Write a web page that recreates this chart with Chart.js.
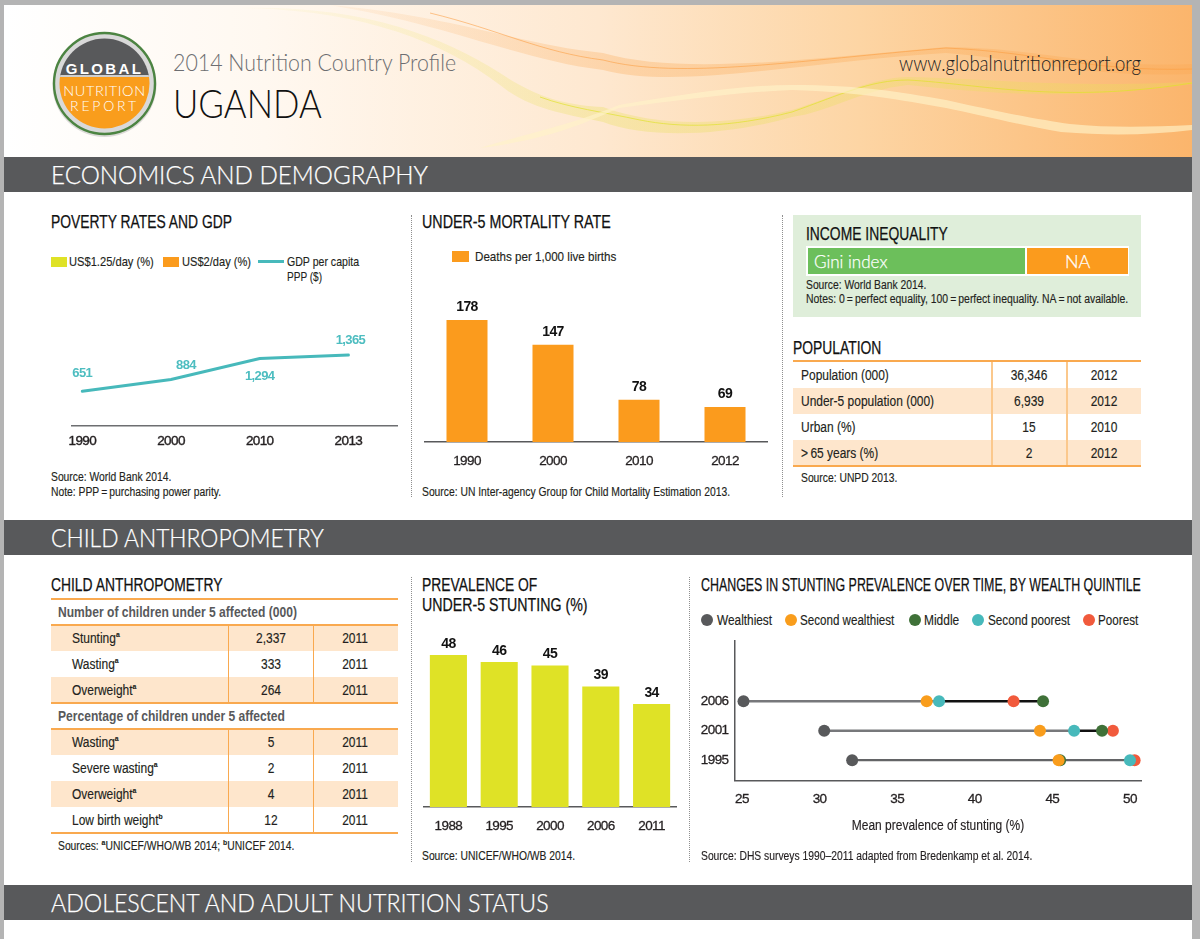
<!DOCTYPE html>
<html>
<head>
<meta charset="utf-8">
<title>Uganda nutrition profile</title>
<script src="https://cdn.jsdelivr.net/npm/chart.js@4/dist/chart.umd.min.js"></script>
<style>
  html, body { margin: 0; padding: 0; }
  body { width: 1200px; height: 939px; overflow: hidden; position: relative; background: #b4b4b4; }
  #page { position: absolute; left: 4px; top: 5px; width: 1188px; height: 934px; background: #fff; }
  #header { position: absolute; left: 4px; top: 5px; width: 1188px; height: 152px;
    background: linear-gradient(90deg, #fff 0%, #fff8f0 22%, #fee8d0 50%, #fdd5a4 72%, #fbb56c 100%); }
  #swoosh { position: absolute; left: 0; top: 0; }
  canvas { position: absolute; }
  .t { position: absolute; white-space: nowrap; font-family: "Liberation Sans", sans-serif;
    font-size: 12px; line-height: 16px; color: #231f20; transform-origin: 0 50%;
    -webkit-text-stroke: .15px #231f20; }
  .src { transform: scaleX(.86); }
  .h { font-size: 18px; line-height: 20px; color: #111; transform: scaleX(.77); -webkit-text-stroke: .25px #111; }
  .lg { font-size: 13.5px; transform: scaleX(.86); }
  .td { font-size: 14px; transform: scaleX(.855); }
  .th { font-size: 14px; font-weight: bold; color: #58595b; transform: scaleX(.863); -webkit-text-stroke: 0; }
  .c { transform-origin: 50% 50%; transform: translateX(-50%) scaleX(.855); }
  .sec { font-family: Lato, sans-serif; font-weight: 300; font-size: 25px; line-height: 30px; color: #fff; -webkit-text-stroke: .25px #fff; }
  .lt { font-family: Lato, sans-serif; font-weight: 300; -webkit-text-stroke: 0; }
  sup { font-size: 8px; line-height: 0; font-weight: bold; }
  .box { position: absolute; }
  .dots { position: absolute; width: 0; border-left: 1px dotted #8f8f8f; }
</style>
</head>
<body>
<div id="page"></div>
<div id="header"></div>
<svg id="swoosh" width="1200" height="160">
  <defs>
    <linearGradient id="fadeYellow" gradientUnits="userSpaceOnUse" x1="240" y1="0" x2="600" y2="0">
      <stop offset="0" stop-color="#f3e87a" stop-opacity=".06"/>
      <stop offset="1" stop-color="#e9e05a" stop-opacity=".32"/>
    </linearGradient>
    <linearGradient id="fadeOrange" gradientUnits="userSpaceOnUse" x1="330" y1="0" x2="620" y2="0">
      <stop offset="0" stop-color="#fba64f" stop-opacity=".08"/>
      <stop offset="1" stop-color="#fba64f" stop-opacity=".3"/>
    </linearGradient>
  </defs>
  <path d="M330 5 C450 15 520 45 603 53 C680 75 800 60 946 47 C1040 48 1090 68 1192 64 L1192 74 C1090 78 1030 60 946 53 C800 62 680 90 603 70 C520 60 450 25 330 5Z" fill="url(#fadeOrange)"/>
  <path d="M430 13 C500 30 540 52 603 60 C680 80 800 60 946 48 C1040 52 1090 72 1192 69" fill="none" stroke="#fb9b3c" stroke-opacity=".55"/>
  <path d="M240 8 C360 5 440 35 500 73 C540 100 570 105 603 107 C660 128 730 125 792 110 C840 95 870 78 908 77 C980 78 1060 88 1192 82 L1192 84 C1060 102 980 92 908 85 C860 90 830 112 792 117 C730 135 650 140 603 122 C570 115 530 110 500 85 C440 40 360 10 240 8Z" fill="url(#fadeYellow)"/>
  <path d="M540 97 C570 108 603 112 640 120 C680 128 730 128 792 112 C840 95 870 80 908 80 C980 84 1060 104 1192 83" fill="none" stroke="#dfe226" stroke-opacity=".65"/>
  <path d="M480 148 C540 130 570 125 619 105 C680 95 740 85 792 85 C860 85 900 92 946 100 C1000 112 1040 120 1070 124 C1110 128 1150 127 1192 125 L1192 130 C1150 135 1110 136 1061 132 C1020 125 980 115 946 108 C900 100 860 92 792 90 C740 92 680 100 619 108 C570 130 540 140 480 148Z" fill="#fff3c8" fill-opacity=".65"/>
</svg>
<svg id="logo" width="112" height="112" style="position:absolute;left:49px;top:28px">
  <circle cx="55.5" cy="57" r="52" fill="#9a9a9a" fill-opacity=".35"/>
  <circle cx="55.5" cy="55.5" r="50.5" fill="#d9d9d9" stroke="#4c8442" stroke-width="2.4"/>
  <clipPath id="inner"><circle cx="55.5" cy="55.5" r="45"/></clipPath>
  <g clip-path="url(#inner)">
    <rect x="0" y="0" width="112" height="49" fill="#58595b"/>
    <rect x="0" y="49" width="112" height="63" fill="#f99d1c"/>
    <rect x="0" y="47" width="112" height="2" fill="#cfcfcf"/>
  </g>
  <text x="55.5" y="46" text-anchor="middle" font-family="Liberation Sans" font-weight="bold" font-size="15" letter-spacing="2.4" fill="#fff">GLOBAL</text>
  <text x="55.5" y="68" text-anchor="middle" font-family="Lato" font-weight="300" font-size="14.5" letter-spacing=".6" fill="#fff">NUTRITION</text>
  <text x="55.5" y="83" text-anchor="middle" font-family="Lato" font-weight="300" font-size="14" letter-spacing="2.8" fill="#fff">REPORT</text>
</svg>
<canvas id="gdpChart" width="338" height="125" style="left:60px;top:330px"></canvas>
<canvas id="mortalityChart" width="344" height="190" style="left:424px;top:290px"></canvas>
<canvas id="stuntingChart" width="254" height="210" style="left:423px;top:630px"></canvas>
<canvas id="quintileChart" width="460" height="205" style="left:690px;top:635px"></canvas>
<script>
// chart values
const gdpYears = ["1990", "2000", "2010", "2013"];
const gdpValues = [651, 884, 1294, 1365];
const gdpLabelShift = [[0, -18], [15, -14], [0, 18], [2, -15]];

const mortalityYears = ["1990", "2000", "2010", "2012"];
const mortalityValues = [178, 147, 78, 69];

const stuntingYears = ["1988", "1995", "2000", "2006", "2011"];
const stuntingValues = [48, 46, 45, 39, 34];

const quintileYears = ["1995", "2001", "2006"];
const wealthiest = [32.1, 30.3, 25.1];
const secondWealthiest = [45.4, 44.2, 36.9];
const middle = [45.5, 48.2, 44.4];
const secondPoorest = [50.0, 46.4, 37.7];
const poorest = [50.3, 48.9, 42.5];

const populationRows = [
  ["Population (000)", "36,346", "2012"],
  ["Under-5 population (000)", "6,939", "2012"],
  ["Urban (%)", "15", "2010"],
  [">\u200965 years (%)", "2", "2012"],
];
const affectedRows = [
  ["Stunting<sup>a</sup>", "2,337", "2011"],
  ["Wasting<sup>a</sup>", "333", "2011"],
  ["Overweight<sup>a</sup>", "264", "2011"],
];
const percentageRows = [
  ["Wasting<sup>a</sup>", "5", "2011"],
  ["Severe wasting<sup>a</sup>", "2", "2011"],
  ["Overweight<sup>a</sup>", "4", "2011"],
  ["Low birth weight<sup>b</sup>", "12", "2011"],
];

const ink = "#231f20";
const axisGrey = "#58595b";
const orange = "#fb9b1d";
const yellow = "#dfe226";
const teal = "#47b9bb";
const sans = "'Liberation Sans', sans-serif";

function put(html, x, y, cls, style) {
  const el = document.createElement("div");
  el.className = "t " + (cls || "src");
  el.innerHTML = html;
  el.style.left = x + "px";
  el.style.top = y + "px";
  if (style) el.style.cssText += style;
  document.body.appendChild(el);
  // y is the middle of the line
  el.style.marginTop = -el.offsetHeight / 2 + "px";
  return el;
}

// squeeze a line to the width it has in the reference
function fit(el, width) {
  el.style.transform = "scaleX(" + width / el.offsetWidth + ")";
}

function rect(x, y, w, h, color) {
  const el = document.createElement("div");
  el.className = "box";
  el.style.cssText += "left:" + x + "px;top:" + y + "px;width:" + w + "px;height:" + h + "px;background:" + color;
  document.body.appendChild(el);
}

function dotted(x, y, h) {
  const el = document.createElement("div");
  el.className = "dots";
  el.style.cssText += "left:" + x + "px;top:" + y + "px;height:" + h + "px";
  document.body.appendChild(el);
}

// header and section bars
fit(put("2014 Nutrition Country Profile", 173, 62, "lt", "font-size:24px;line-height:30px;color:#6d6e71"), 283);
fit(put("UGANDA", 173, 103, "lt", "font-size:40px;line-height:44px;color:#111"), 149);
fit(put("www.globalnutritionreport.org", 899, 63, "lt", "font-size:21px;line-height:26px;color:#222"), 242);

[[157, "ECONOMICS AND DEMOGRAPHY", 377], [520, "CHILD ANTHROPOMETRY", 273], [885, "ADOLESCENT AND ADULT NUTRITION STATUS", 498]].forEach(function (s) {
  rect(4, s[0], 1188, 35, axisGrey);
  fit(put(s[1], 51, s[0] + 17, "sec"), s[2]);
});

dotted(411, 215, 282);
dotted(782, 215, 282);
dotted(411, 577, 285);
dotted(689, 577, 285);

// poverty panel
put("POVERTY RATES AND GDP", 51, 222, "h");
rect(51, 257, 16, 9.5, yellow);
fit(put("US$1.25/day (%)", 69, 262, "lg"), 85);
rect(163, 257, 16, 9.5, orange);
fit(put("US$2/day (%)", 182, 262, "lg"), 69);
rect(258, 260, 26, 3, teal);
fit(put("GDP per capita", 287, 262, "lg"), 72);
fit(put("PPP ($)", 287, 277, "lg"), 35);
put("Source: World Bank 2014.", 51, 477);
put("Note: PPP\u2009=\u2009purchasing power parity.", 51, 491.5);

// mortality panel
fit(put("UNDER-5 MORTALITY RATE", 422, 222, "h"), 189);
rect(452, 251, 17, 10.5, orange);
put("Deaths per 1,000 live births", 475, 257, "lg");
put("Source: UN Inter-agency Group for Child Mortality Estimation 2013.", 422, 491.5);

// income inequality
rect(793, 215, 348, 102, "#dfeeda");
put("INCOME INEQUALITY", 806, 233.5, "h");
rect(806, 246, 323, 29.5, "#fff");
rect(807.5, 247.5, 217, 26, "#6cbf5b");
rect(1026.5, 247.5, 101, 26, orange);
fit(put("Gini index", 814, 261, "sec", "font-size:18px;line-height:22px"), 73);
put("NA", 1065, 261, "sec", "font-size:18px;line-height:22px");
put("Source: World Bank 2014.", 806, 285);
fit(put("Notes: 0\u2009=\u2009perfect equality, 100\u2009=\u2009perfect inequality. NA\u2009=\u2009not available.", 806, 299), 322);

// population table
put("POPULATION", 793, 347.5, "h");
populationRows.forEach(function (row, i) {
  const y = 362 + i * 26;
  if (i % 2) rect(793, y, 348, 26, "#fee6cc");
  put(row[0], 801, y + 13, "td");
  put(row[1], 1029, y + 13, "td c");
  put(row[2], 1104, y + 13, "td c");
});
rect(793, 360, 348, 2, "#f9a94f");
rect(793, 465, 348, 2, "#f9a94f");
rect(991, 362, 2, 103, "#fbc88c");
rect(1066, 362, 2, 103, "#fbc88c");
put("Source: UNPD 2013.", 801, 478);

// child anthropometry table
put("CHILD ANTHROPOMETRY", 51, 585, "h");
function childRows(rows, top) {
  rows.forEach(function (row, i) {
    const y = top + i * 26;
    if (i % 2 === 0) rect(51, y, 347, 26, "#fee6cc");
    put(row[0], 72, y + 13, "td");
    put(row[1], 271, y + 13, "td c");
    put(row[2], 355, y + 13, "td c");
  });
  rect(228, top, 1, rows.length * 26, "#f9a94f");
  rect(313, top, 1, rows.length * 26, "#f9a94f");
}
childRows(affectedRows, 625);
childRows(percentageRows, 729);
[598, 624, 702, 728, 832].forEach(function (y) {
  rect(51, y, 347, 2, "#f9a94f");
});
put("Number of children under 5 affected (000)", 58, 612, "th");
put("Percentage of children under 5 affected", 58, 716, "th");
put("Sources: <sup>a</sup>UNICEF/WHO/WB 2014; <sup>b</sup>UNICEF 2014.", 58, 846);

// stunting panel
put("PREVALENCE OF", 422, 585, "h");
fit(put("UNDER-5 STUNTING (%)", 422, 605, "h"), 165.5);
put("Source: UNICEF/WHO/WB 2014.", 422, 856);

// quintile panel
fit(put("CHANGES IN STUNTING PREVALENCE OVER TIME, BY WEALTH QUINTILE", 701, 585, "h"), 440);
[["Wealthiest", axisGrey, 707, 55], ["Second wealthiest", "#f99d1c", 790.5, 94.5], ["Middle", "#3f7138", 914.5, 35], ["Second poorest", teal, 978, 82], ["Poorest", "#f15a3c", 1088.5, 40]].forEach(function (q) {
  const dot = document.createElement("div");
  dot.className = "box";
  dot.style.cssText += "left:" + (q[2] - 6) + "px;top:614px;width:12px;height:12px;border-radius:50%;background:" + q[1];
  document.body.appendChild(dot);
  fit(put(q[0], q[2] + 9.5, 620, "td"), q[3]);
});
put("Mean prevalence of stunting (%)", 937.5, 825, "td c");
put("Source: DHS surveys 1990\u20132011 adapted from Bredenkamp et al. 2014.", 701, 856);

// canvas text has no narrow face here, so tighten it a little
Chart.register({
  id: "tightText",
  beforeDraw(chart) {
    chart.ctx.letterSpacing = "-0.6px";
  },
});

// prints the value above each mark
const valueLabels = {
  id: "valueLabels",
  afterDatasetsDraw(chart, args, opts) {
    const ctx = chart.ctx;
    const meta = chart.getDatasetMeta(0);
    ctx.save();
    ctx.font = opts.font;
    ctx.fillStyle = opts.color;
    ctx.textAlign = "center";
    ctx.textBaseline = "middle";
    meta.data.forEach(function (el, i) {
      const shift = opts.shift ? opts.shift[i] : [0, opts.rise];
      const text = meta.controller.getParsed(i).y.toLocaleString("en-US");
      ctx.fillText(text, el.x + shift[0], el.y + shift[1]);
    });
    ctx.restore();
  },
};

function xAxisHeight(h) {
  return function (scale) {
    scale.height = h;
    scale.paddingLeft = 0;
    scale.paddingRight = 0;
  };
}

const tickFont = { family: sans, size: 13.5 };
const noGrid = { display: false, drawTicks: false };

new Chart(document.getElementById("gdpChart").getContext("2d"), {
  type: "line",
  plugins: [valueLabels],
  data: {
    datasets: [
      {
        data: gdpValues.map(function (v, i) {
          return { x: i, y: v };
        }),
        borderColor: teal,
        borderWidth: 3,
        borderCapStyle: "round",
        pointRadius: 0,
        tension: 0,
      },
    ],
  },
  options: {
    responsive: false,
    animation: false,
    plugins: {
      legend: { display: false },
      tooltip: { enabled: false },
      valueLabels: { font: "bold 13px " + sans, color: "#4dbdc0", shift: gdpLabelShift },
    },
    layout: { padding: { left: 12, right: 0, top: 0, bottom: 0 } },
    scales: {
      x: {
        type: "linear",
        min: -0.116,
        max: 3.559,
        afterFit: xAxisHeight(29),
        grid: noGrid,
        border: { color: "#6d6e71", width: 1.5 },
        ticks: {
          font: tickFont,
          color: ink,
          textStrokeColor: ink,
          textStrokeWidth: 0.4,
          padding: 7,
          stepSize: 1,
          includeBounds: false,
          maxRotation: 0,
          callback: function (v) {
            return gdpYears[v];
          },
        },
      },
      y: { display: false, min: -32, max: 1857 },
    },
  },
});

new Chart(document.getElementById("mortalityChart").getContext("2d"), {
  type: "bar",
  plugins: [valueLabels],
  data: {
    labels: mortalityYears,
    datasets: [
      {
        data: mortalityValues,
        backgroundColor: orange,
        categoryPercentage: 1,
        barPercentage: 0.477,
      },
    ],
  },
  options: {
    responsive: false,
    animation: false,
    plugins: {
      legend: { display: false },
      tooltip: { enabled: false },
      valueLabels: { font: "bold 14px " + sans, color: "#111", rise: -13 },
    },
    layout: { padding: 0 },
    scales: {
      x: {
        afterFit: xAxisHeight(38),
        grid: noGrid,
        border: { color: axisGrey, width: 1.5 },
        ticks: { font: tickFont, color: ink, textStrokeColor: ink, textStrokeWidth: 0.3, padding: 11, maxRotation: 0 },
      },
      y: { display: false, min: 25.1, max: 215.6 },
    },
  },
});

new Chart(document.getElementById("stuntingChart").getContext("2d"), {
  type: "bar",
  plugins: [valueLabels],
  data: {
    labels: stuntingYears,
    datasets: [
      {
        data: stuntingValues,
        backgroundColor: yellow,
        categoryPercentage: 1,
        barPercentage: 0.73,
      },
    ],
  },
  options: {
    responsive: false,
    animation: false,
    plugins: {
      legend: { display: false },
      tooltip: { enabled: false },
      valueLabels: { font: "bold 14px " + sans, color: "#111", rise: -11 },
    },
    layout: { padding: 0 },
    scales: {
      x: {
        afterFit: xAxisHeight(33),
        grid: noGrid,
        border: { color: axisGrey, width: 1.5 },
        ticks: { font: tickFont, color: ink, textStrokeColor: ink, textStrokeWidth: 0.3, padding: 11, maxRotation: 0 },
      },
      y: { display: false, min: 4.57, max: 55.14 },
    },
  },
});

function points(values) {
  return values.map(function (v, i) {
    return { x: v, y: i };
  });
}

function quintile(values, color, order) {
  return { data: points(values), backgroundColor: color, pointRadius: 6, pointBorderWidth: 0, order: order };
}

// one connector per survey year, darker past the second poorest dot
const connectors = quintileYears.map(function (year, i) {
  const row = [wealthiest[i], secondWealthiest[i], middle[i], secondPoorest[i], poorest[i]].sort(function (a, b) {
    return a - b;
  });
  return {
    data: row.map(function (v) {
      return { x: v, y: i };
    }),
    showLine: true,
    pointRadius: 0,
    borderWidth: 2.4,
    borderColor: "#77787b",
    order: 10,
    segment: {
      borderColor: function (c) {
        if (i === 0) return "#636466";
        return c.p0.parsed.x >= secondPoorest[i] ? "#111" : "#77787b";
      },
    },
  };
});

new Chart(document.getElementById("quintileChart").getContext("2d"), {
  type: "scatter",
  data: {
    datasets: connectors.concat([
      quintile(poorest, "#f15a3c", 5),
      quintile(middle, "#3f7138", 4),
      quintile(secondPoorest, teal, 3),
      quintile(secondWealthiest, "#f99d1c", 2),
      quintile(wealthiest, axisGrey, 1),
    ]),
  },
  options: {
    responsive: false,
    animation: false,
    plugins: {
      legend: { display: false },
      tooltip: { enabled: false },
    },
    layout: { padding: { right: 9, left: 0, top: 0, bottom: 0 } },
    scales: {
      x: {
        type: "linear",
        min: 24.52,
        max: 50.71,
        afterFit: xAxisHeight(59.5),
        grid: noGrid,
        border: { color: axisGrey, width: 1.5 },
        ticks: {
          font: tickFont,
          color: ink,
          textStrokeColor: ink,
          textStrokeWidth: 0.3,
          padding: 11,
          stepSize: 5,
          includeBounds: false,
          maxRotation: 0,
        },
      },
      y: {
        type: "linear",
        min: -0.691,
        max: 4.047,
        afterFit: function (scale) {
          scale.width = 44.5;
          scale.paddingTop = 0;
          scale.paddingBottom = 0;
        },
        grid: noGrid,
        border: { color: axisGrey, width: 1.5 },
        ticks: {
          font: tickFont,
          color: ink,
          textStrokeColor: ink,
          textStrokeWidth: 0.3,
          padding: 6,
          stepSize: 1,
          includeBounds: false,
          callback: function (v) {
            return quintileYears[v];
          },
        },
      },
    },
  },
});
</script>
</body>
</html>
